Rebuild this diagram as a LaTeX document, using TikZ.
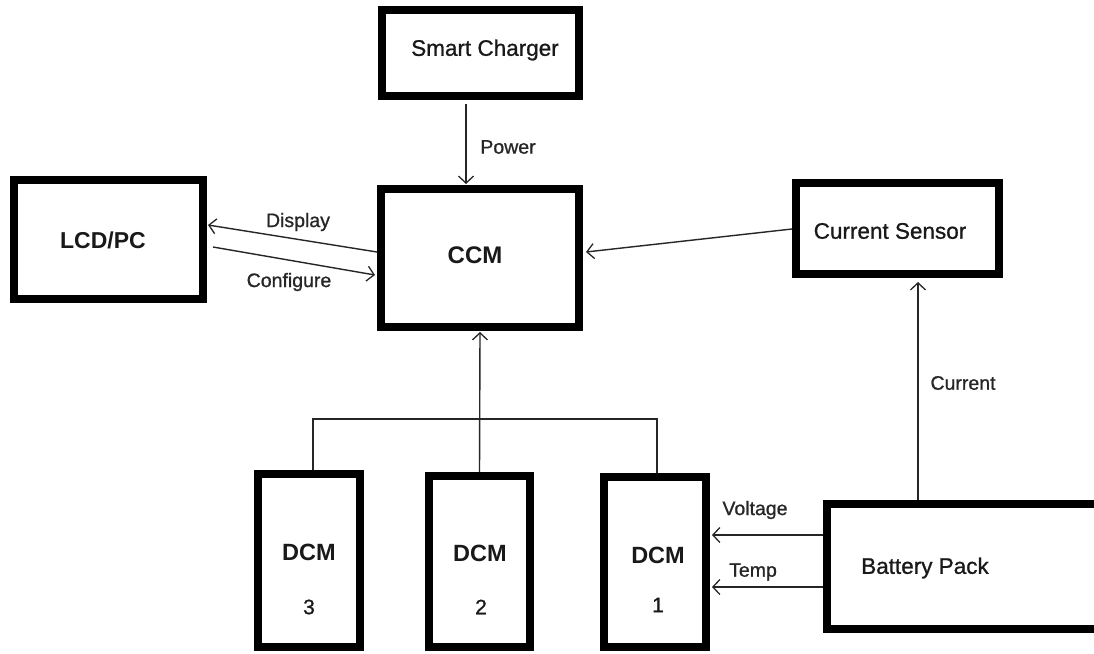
\documentclass[tikz,border=0pt]{standalone}
\usepackage{fontspec}
\setmainfont{Liberation Sans}
\newfontfamily\medfont{Liberation Sans}[UprightFeatures={FakeBold=0.9}]
\usetikzlibrary{arrows.meta,calc}
\begin{document}
\begin{tikzpicture}[x=1pt,y=-1pt,
  blk/.style={draw=black,line width=8pt,rectangle,inner sep=0pt,fill=white},
  conn/.style={line width=1.4pt,draw=black!85},
  arr/.style={conn,-{Straight Barb[length=7pt,width=15pt,line width=1.3pt]}},
  big/.style={font=\medfont\fontsize{22.5}{26}\selectfont,text=black!90},
  bigb/.style={font=\fontsize{24}{28}\selectfont\bfseries,text=black!90},
  lab/.style={font=\medfont\fontsize{19.5}{23}\selectfont,text=black!85},
  num/.style={font=\medfont\fontsize{21}{25}\selectfont,text=black!90}]
\useasboundingbox (0,0) rectangle (1094,653);
\fill[white] (0,0) rectangle (1094,653);
% boxes
\node[blk,minimum width=197pt,minimum height=86pt] (sc) at (480.5,53) {};
\node[blk,minimum width=198pt,minimum height=138pt] (ccm) at (480,258) {};
\node[blk,minimum width=189pt,minimum height=119pt] (lcd) at (108.5,239.5) {};
\node[blk,minimum width=203pt,minimum height=91pt] (cs) at (897.5,228.5) {};
\node[blk,minimum width=102pt,minimum height=173pt] (d3) at (309,560.5) {};
\node[blk,minimum width=101pt,minimum height=171pt] (d2) at (479.5,561.5) {};
\node[blk,minimum width=102pt,minimum height=170pt] (d1) at (655,562) {};
\node[blk,minimum width=271pt,minimum height=125pt] (bp) at (962.5,566.5) {};
% box texts
\node[big] (tsc) at (485,50) {Smart Charger};
\node[bigb] (tccm) at (475,255) {CCM};
\node[bigb,font=\fontsize{23}{27}\selectfont\bfseries] (tlcd) at (103,240) {LCD/PC};
\node[big] (tcs) at (890,231) {Current Sensor};
\node[big] (tbp) at (925,568) {Battery Pack};
\node[bigb,font=\fontsize{23.5}{27}\selectfont\bfseries] (td3) at (309,552) {DCM};
\node[num] (n3) at (309,607) {3};
\node[bigb,font=\fontsize{23.5}{27}\selectfont\bfseries] (td2) at (480,553) {DCM};
\node[num] (n2) at (481,607) {2};
\node[bigb,font=\fontsize{23.5}{27}\selectfont\bfseries] (td1) at (658,555) {DCM};
\node[num] (n1) at (658,605) {1};
% connectors
\draw[arr] ($(sc.south)+(-14.5,4)$) -- ($(ccm.north)+(-14,-1)$);
\node[lab] (lpow) at (508,147) {Power};
\draw[arr] ($(ccm.west)+(0,-6)$) -- ($(lcd.east)+(1,-14.5)$);
\node[lab] (ldisp) at (298,222) {Display};
\draw[arr] ($(lcd.east)+(6,7.5)$) -- ($(ccm.west)+(-2,17)$);
\node[lab] (lconf) at (289,282) {Configure};
\draw[arr] ($(cs.west)+(0,0.5)$) -- ($(ccm.east)+(3,-6)$);
\draw[arr] (d2.north) -- ($(ccm.south)+(0,1)$);
\draw[conn] ($(d3.north)+(4,0)$) -- ++(0,-51) -| ($(d1.north)+(2,0)$);
\draw[arr] ($(bp.north)+(-44.5,0)$) -- ($(cs.south)+(20.5,4)$);
\node[lab] (lcur) at (963,383) {Current};
\draw[arr] ($(bp.west)+(0,-31.5)$) -- ($(d1.east)+(2,-27)$);
\node[lab] (lvolt) at (755,510) {Voltage};
\draw[arr] ($(bp.west)+(0,20.5)$) -- ($(d1.east)+(2,25)$);
\node[lab] (ltemp) at (753,572) {Temp};
\end{tikzpicture}
\end{document}
